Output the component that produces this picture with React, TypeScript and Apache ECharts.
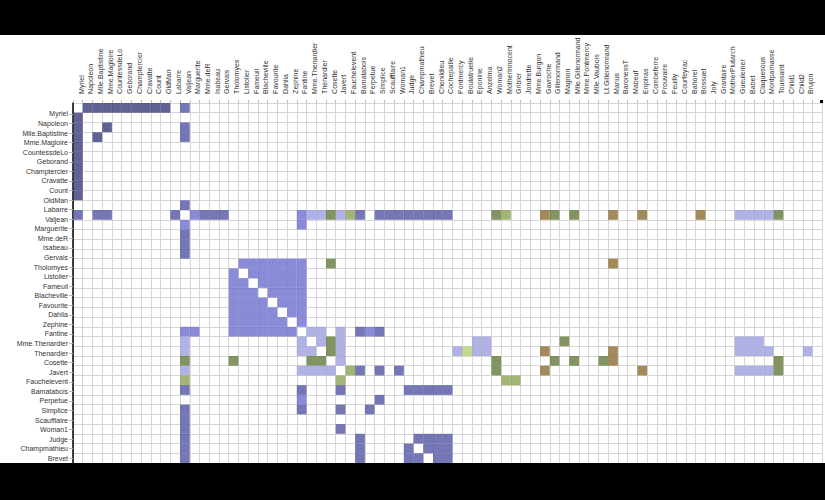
import React, { useEffect, useRef } from "react";
import * as echarts from "echarts";

const names: string[] = [
  "Myriel", "Napoleon", "Mlle.Baptistine", "Mme.Magloire", "CountessdeLo", "Geborand", "Champtercier",
  "Cravatte", "Count", "OldMan", "Labarre", "Valjean", "Marguerite", "Mme.deR", "Isabeau", "Gervais",
  "Tholomyes", "Listolier", "Fameuil", "Blacheville", "Favourite", "Dahlia", "Zephine", "Fantine",
  "Mme.Thenardier", "Thenardier", "Cosette", "Javert", "Fauchelevent", "Bamatabois", "Perpetue",
  "Simplice", "Scaufflaire", "Woman1", "Judge", "Champmathieu", "Brevet", "Chenildieu", "Cochepaille",
  "Pontmercy", "Boulatruelle", "Eponine", "Anzelma", "Woman2", "MotherInnocent", "Gribier", "Jondrette",
  "Mme.Burgon", "Gavroche", "Gillenormand", "Magnon", "Mlle.Gillenormand", "Mme.Pontmercy",
  "Mlle.Vaubois", "Lt.Gillenormand", "Marius", "BaronessT", "Mabeuf", "Enjolras", "Combeferre",
  "Prouvaire", "Feuilly", "Courfeyrac", "Bahorel", "Bossuet", "Joly", "Grantaire", "MotherPlutarch",
  "Gueulemer", "Babet", "Claquesous", "Montparnasse", "Toussaint", "Child1", "Child2", "Brujon",
  "Mme.Hucheloup",
];

const groups: number[] = [
  1, 1, 1, 1, 1, 1, 1, 1, 1, 1, 2, 2, 3, 2, 2, 2, 3, 3, 3, 3, 3, 3, 3, 3, 4, 4, 5, 4, 0, 2, 3, 2, 2, 2, 2, 2, 2, 2, 2,
  4, 6, 4, 4, 5, 0, 0, 7, 7, 8, 5, 5, 5, 5, 5, 5, 8, 5, 8, 8, 8, 8, 8, 8, 8, 8, 8, 8, 9, 4, 4, 4, 4, 5, 10, 10, 4, 8,
];

// [source, target]
const links: [number, number][] = [
  [1, 0], [2, 0], [3, 0], [3, 2], [4, 0], [5, 0], [6, 0], [7, 0], [8, 0], [9, 0], [11, 10], [11, 3], [11, 2], [11, 0],
  [12, 11], [13, 11], [14, 11], [15, 11], [17, 16], [18, 16], [18, 17], [19, 16], [19, 17], [19, 18], [20, 16],
  [20, 17], [20, 18], [20, 19], [21, 16], [21, 17], [21, 18], [21, 19], [21, 20], [22, 16], [22, 17], [22, 18],
  [22, 19], [22, 20], [22, 21], [23, 16], [23, 17], [23, 18], [23, 19], [23, 20], [23, 21], [23, 22], [23, 12],
  [23, 11], [24, 23], [24, 11], [25, 24], [25, 23], [25, 11], [26, 24], [26, 11], [26, 16], [26, 25], [27, 11],
  [27, 23], [27, 25], [27, 24], [27, 26], [28, 11], [28, 27], [29, 23], [29, 27], [29, 11], [30, 23], [31, 30],
  [31, 11], [31, 23], [31, 27], [32, 11], [33, 11], [33, 27], [34, 11], [34, 29], [35, 11], [35, 34], [35, 29],
  [36, 34], [36, 35], [36, 11], [36, 29], [37, 34], [37, 35], [37, 36], [37, 11], [37, 29], [38, 34], [38, 35],
  [38, 36], [38, 37], [38, 11], [38, 29], [39, 25], [40, 25], [41, 24], [41, 25], [42, 41], [42, 25], [42, 24],
  [43, 11], [43, 26], [43, 27], [44, 28], [44, 11], [45, 28], [47, 46], [48, 47], [48, 25], [48, 27], [48, 11],
  [49, 26], [49, 11], [50, 49], [50, 24], [51, 49], [51, 26], [51, 11], [52, 51], [52, 39], [53, 51], [54, 51],
  [54, 49], [54, 26], [55, 51], [55, 49], [55, 39], [55, 54], [55, 26], [55, 11], [55, 16], [55, 25], [55, 41],
  [55, 48], [56, 49], [56, 55], [57, 55], [57, 41], [57, 48], [58, 55], [58, 48], [58, 27], [58, 57], [58, 11],
  [59, 58], [59, 55], [59, 48], [59, 57], [60, 48], [60, 58], [60, 59], [61, 48], [61, 58], [61, 60], [61, 59],
  [61, 57], [61, 55], [62, 55], [62, 58], [62, 59], [62, 48], [62, 57], [62, 41], [62, 61], [62, 60], [63, 59],
  [63, 48], [63, 62], [63, 57], [63, 58], [63, 61], [63, 60], [63, 55], [64, 55], [64, 62], [64, 48], [64, 63],
  [64, 58], [64, 61], [64, 60], [64, 59], [64, 57], [64, 11], [65, 63], [65, 64], [65, 48], [65, 62], [65, 58],
  [65, 61], [65, 60], [65, 59], [65, 57], [65, 55], [66, 64], [66, 58], [66, 59], [66, 62], [66, 65], [66, 48],
  [66, 63], [66, 61], [66, 60], [67, 57], [68, 25], [68, 11], [68, 24], [68, 27], [68, 48], [68, 41], [69, 25],
  [69, 68], [69, 11], [69, 24], [69, 27], [69, 48], [69, 41], [70, 25], [70, 69], [70, 68], [70, 11], [70, 24],
  [70, 27], [70, 41], [70, 58], [71, 27], [71, 69], [71, 68], [71, 70], [71, 11], [71, 48], [71, 41], [71, 25],
  [72, 26], [72, 27], [72, 11], [73, 48], [74, 48], [74, 73], [75, 69], [75, 68], [75, 25], [75, 48], [75, 41],
  [75, 70], [75, 71], [76, 64], [76, 65], [76, 66], [76, 63], [76, 62], [76, 48], [76, 58],
];

const palette: string[] = [
  "#393b79", "#5254a3", "#6b6ecf", "#9c9ede", "#637939", "#8ca252", "#b5cf6b", "#cedb9c",
  "#8c6d31", "#bd9e39", "#e7ba52", "#e7cb94", "#843c39", "#ad494a", "#d6616b", "#e7969c",
];

const N = names.length;
// only the rows whose label sits above the lower black band get one
const LAST_VISIBLE_ROW_LABEL = 37;

export default function App() {
  const ref = useRef<HTMLDivElement>(null);

  useEffect(() => {
    if (!ref.current) return;
    const chart = echarts.init(ref.current, undefined, { renderer: "svg" });

    // ordinal colour scale: groups get colours in order of first appearance
    const groupOrder: number[] = [];
    groups.forEach((g) => {
      if (!groupOrder.includes(g)) groupOrder.push(g);
    });

    const cells: number[][] = [];
    links.forEach(([s, t]) => {
      const ci = groupOrder.indexOf(groups[s]) % palette.length;
      cells.push([t, s, ci]);
      cells.push([s, t, ci]);
    });

    const cell = 9.73;
    const rowLabelStep = 9.565;
    const font = "'Liberation Sans', Arial, sans-serif";
    const labelGridTop = 104.4;
    const labelGridLeft = 71.3;

    chart.setOption({
      animation: false,
      backgroundColor: "#ffffff",
      grid: [
        {
          left: 73,
          top: 103,
          width: cell * N,
          height: cell * N,
          containLabel: false,
          outerBoundsMode: "none",
        },
        {
          left: labelGridLeft,
          top: labelGridTop,
          width: cell * N,
          height: rowLabelStep * N,
          containLabel: false,
          outerBoundsMode: "none",
        },
      ],
      xAxis: [
        {
          gridIndex: 0,
          type: "value",
          position: "top",
          min: 0,
          max: N,
          interval: 1,
          axisLine: { show: false },
          axisTick: { show: true, length: 3, lineStyle: { color: "#bbbbbb" } },
          axisLabel: { show: false },
          splitLine: { show: true, lineStyle: { color: "#d6d6d6", width: 1 } },
        },
        {
          gridIndex: 1,
          type: "value",
          position: "top",
          min: 0,
          max: N,
          interval: 1,
          axisLine: { show: false },
          axisTick: { show: false },
          splitLine: { show: false },
          axisLabel: {
            rotate: 90,
            fontSize: 7,
            color: "#333333",
            fontFamily: font,
            margin: 10.5,
            showMinLabel: false,
            showMaxLabel: false,
            formatter: (v: number) => names[v - 1] ?? "",
          },
        },
      ],
      yAxis: [
        {
          gridIndex: 0,
          type: "value",
          inverse: true,
          min: 0,
          max: N,
          interval: 1,
          axisLine: { show: true, lineStyle: { color: "#000000", width: 1.5 } },
          axisTick: { show: false },
          axisLabel: { show: false },
          splitLine: { show: true, lineStyle: { color: "#d6d6d6", width: 1 } },
        },
        {
          gridIndex: 1,
          type: "value",
          inverse: true,
          min: 0,
          max: N,
          interval: 1,
          offset: -(73 - labelGridLeft),
          axisLine: { show: false },
          axisTick: { show: true, length: 4, lineStyle: { color: "#bbbbbb" } },
          splitLine: { show: false },
          axisLabel: {
            fontSize: 7,
            color: "#333333",
            fontFamily: font,
            margin: 5,
            showMinLabel: false,
            showMaxLabel: false,
            formatter: (v: number) => (v <= LAST_VISIBLE_ROW_LABEL ? names[v - 1] ?? "" : ""),
          },
        },
      ],
      series: [
        {
          type: "custom",
          coordinateSystem: "cartesian2d",
          xAxisIndex: 0,
          yAxisIndex: 0,
          encode: { x: 0, y: 1 },
          data: cells,
          renderItem: (params: any, api: any) => {
            const c = api.value(0);
            const r = api.value(1);
            const p0 = api.coord([c, r]);
            const p1 = api.coord([c + 1, r + 1]);
            return {
              type: "rect",
              shape: {
                x: Math.min(p0[0], p1[0]),
                y: Math.min(p0[1], p1[1]),
                width: Math.abs(p1[0] - p0[0]),
                height: Math.abs(p1[1] - p0[1]),
              },
              style: { fill: palette[api.value(2)], opacity: 0.8 },
            };
          },
        },
      ],
      graphic: [
        { type: "rect", left: 0, top: 0, z: 100, shape: { width: 825, height: 35 }, style: { fill: "#000" } },
        { type: "rect", left: 0, top: 463, z: 100, shape: { width: 825, height: 37 }, style: { fill: "#000" } },
        { type: "rect", left: 820, top: 100, z: 100, shape: { width: 3, height: 3 }, style: { fill: "#000" } },
      ],
    });

    return () => chart.dispose();
  }, []);

  return (
    <div
      ref={ref}
      style={{ position: "fixed", left: 0, top: 0, width: 825, height: 500, overflow: "hidden" }}
    />
  );
}
